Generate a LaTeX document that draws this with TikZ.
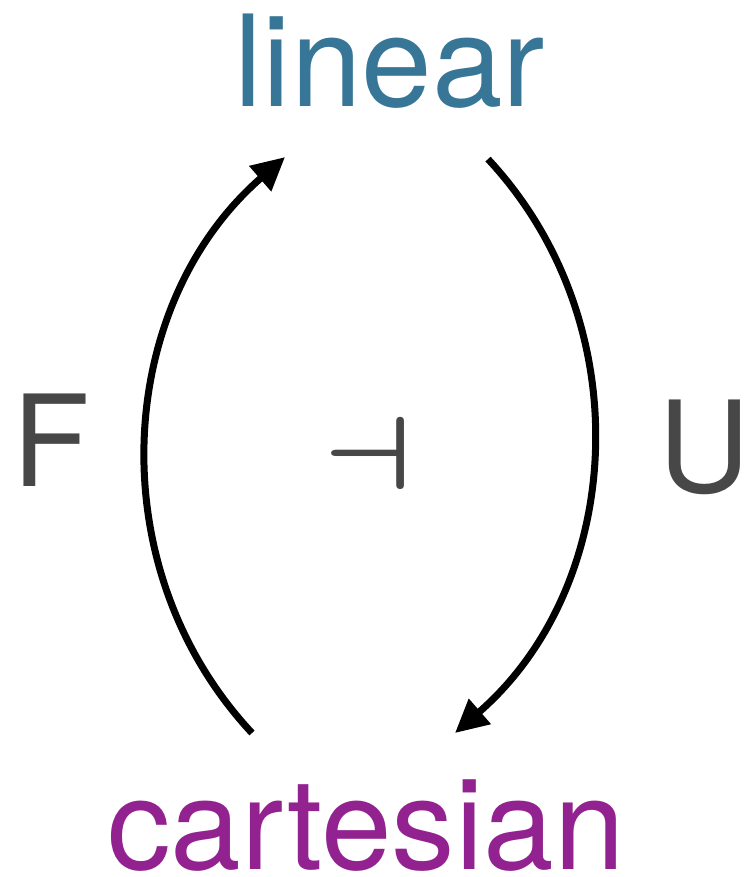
\RequirePackage{fix-cm}
\documentclass[tikz,border=0pt]{standalone}
\usepackage{fontspec}
\setmainfont{TeX Gyre Heros}
\usetikzlibrary{arrows.meta,positioning,calc}
\definecolor{catLin}{HTML}{377696}
\definecolor{catCart}{HTML}{92228F}
\definecolor{lblGray}{HTML}{474747}

\begin{document}
\begin{tikzpicture}[x=1pt,y=1pt,>={Triangle[length=33pt,width=32pt]},
    every node/.style={inner sep=0pt,font=\fontsize{127}{130}\selectfont},
    cat/.style={anchor=base},
    fun/.style={anchor=base west,text=lblGray},
    adj/.style={line width=7pt,->}]
  \useasboundingbox (0,0) rectangle (747,877);
  % ---- categories ----
  \node[cat,text=catLin] (lin) at (390,770) {linear};
  \node[cat,text=catCart] (cart) at (366,7) {cartesian};
  % ---- functor labels and the adjunction sign ----
  \node[fun] (F) at (12,390) {F};
  \node[fun] (U) at (658,384) {U};
  \node[fun,font=\fontsize{104}{110}\selectfont] (adj) at (323,387) {\scalebox{1.22}[1]{\boldmath$\dashv$}};
  % ---- arrow ends ----
  \coordinate (fTail) at ($(cart.north)+(-114,47)$);
  \coordinate (fTip)  at ($(lin.south)+(-105,-48)$);
  \coordinate (uTail) at ($(lin.south)+(98,-50)$);
  \coordinate (uTip)  at ($(cart.north)+(89,47)$);
  % ---- F and U ----
  \draw[adj] (fTail) to[out=133,in=221] (fTip);
  \draw[adj] (uTail) to[out=-47,in=41] (uTip);
\end{tikzpicture}
\end{document}
